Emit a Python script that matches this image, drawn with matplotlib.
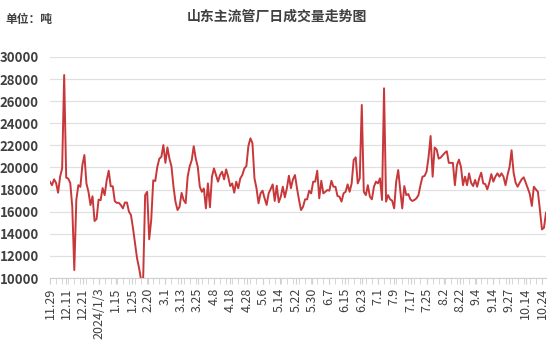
import matplotlib
matplotlib.use("Agg")
import matplotlib.pyplot as plt
import numpy as np

plt.rcParams['font.family'] = ['Noto Sans CJK SC', 'DejaVu Sans']

# 日成交量（吨）
vol_a = [18700, 18400, 18930, 18600, 17720, 19170, 19930, 28370, 19080, 19000,
         18600, 16450, 10720, 17060, 18400, 18250, 20230, 21130, 18550, 17800,
         16600, 17400, 15160, 15340, 17100, 17040, 18140, 17500, 18830, 19710,
         18300, 18300, 16950, 16800, 16800, 16600, 16300, 16830, 16830, 16000,
         15700, 14500, 13140, 11780, 10900, 9800, 9800, 17500, 17800, 13500,
         15250, 18840, 18780, 20050, 20800, 20960, 22030, 20420, 21820, 20800,
         20100, 18250, 16880, 16150, 16450, 17700, 17060, 16770, 19170, 20100,
         20660, 21930, 20800, 20050]
vol_b = [18260, 17800, 18100, 16300, 18560, 16400, 19170, 19920, 19320, 18720,
         19320, 19620, 18930, 19830, 19170, 18320, 18560, 17720, 18720, 18120,
         19020, 19320, 19920, 20130, 21950, 22640, 22190, 19020, 18120, 16760,
         17660, 17900, 17210, 16610, 17660, 18050, 18470, 16970, 18350, 16850,
         17360, 18260, 17300, 18120, 19260, 18120, 18930, 19320, 18120, 17060,
         16150, 16450, 17120, 17120, 17900, 17660, 18720, 18720, 19710, 17210,
         18800, 17660, 17800, 17960, 17900, 18800, 18260, 18260, 17420, 17360,
         16910, 17660, 17800, 18470, 17800, 18560, 20680, 20920, 18560, 19020,
         25660, 17800, 17500, 18400, 17360, 17120, 18260, 18720, 18560]
vol_c = [19020, 17060, 27170, 16910, 17500, 17120, 17000, 16300, 18720, 19770,
         17960, 16300, 18320, 17500, 17600, 17120, 16970, 17060, 17210, 17500,
         18400, 19170, 19230, 19620, 20960, 22850, 19170, 21810, 21630, 20800,
         20900, 21110, 21320, 21470, 20420, 20420, 20420, 18400, 20200, 20710,
         20050, 18400, 19170, 18400, 19470, 18620, 18320, 18870, 18260, 19020,
         19530, 18560, 18500, 18020, 18620, 19400, 18720, 19170, 19470, 19170,
         19470, 19170, 18400, 19320, 20050, 21560, 19530, 18620, 18260, 18620,
         18930, 19110, 18620, 18120, 17600, 16520, 18260, 18020, 17800, 16150,
         14400, 14550, 15910]
volume = vol_a + vol_b + vol_c

date_labels = ['11.29', '12.11', '12.21', '2024/1/3', '1.15', '1.25', '2.20', '3.1',
               '3.13', '3.25', '4.8', '4.18', '4.28', '5.6', '5.14', '5.22', '5.30',
               '6.7', '6.15', '6.23', '7.1', '7.9', '7.17', '7.25', '8.2', '8.22',
               '9.4', '9.14', '9.27', '10.14', '10.24']

n = len(volume)
x = np.arange(n)
# 最后一个标签略早于最后一个点
last_lab = (n - 1) * (541.7 - 50) / (545.7 - 50)
lab_pos = np.linspace(0, last_lab, len(date_labels))

fig = plt.figure(figsize=(5.53, 3.6), dpi=100)
ax = fig.add_axes([50 / 553, 1 - 278 / 360, 496 / 553, 221 / 360])

ax.plot(x, volume, color='#c8383a', lw=1.4, zorder=3, clip_on=True)

ax.set_ylim(10000, 30000)
ax.set_yticks(np.arange(10000, 30001, 2000))
ax.set_xlim(0, n - 1)
ax.set_xticks(lab_pos)
ax.set_xticklabels(date_labels, rotation=90, fontsize=9, color='#404040')
ax.set_xticks(np.arange(0, n, 3), minor=True)
ax.tick_params(axis='x', which='both', direction='out', length=4, color='#d0d0d0', pad=3)
ax.tick_params(axis='y', length=0, pad=8, labelsize=9.5, labelcolor='#404040')
for lab in ax.get_yticklabels():
    lab.set_fontweight('bold')

ax.grid(axis='y', color='#e0e0e0', lw=0.9)
ax.set_axisbelow(True)
for s in ['top', 'right', 'left']:
    ax.spines[s].set_visible(False)
ax.spines['bottom'].set_color('#d0d0d0')

fig.text(0.5, 1 - 17 / 360, '山东主流管厂日成交量走势图', ha='center', va='center',
         fontsize=10, fontweight='bold', color='#404040')
fig.text(5 / 553, 1 - 20 / 360, '单位：吨', ha='left', va='center',
         fontsize=8.5, fontweight='bold', color='#404040')

fig.savefig('out.png', dpi=100)
